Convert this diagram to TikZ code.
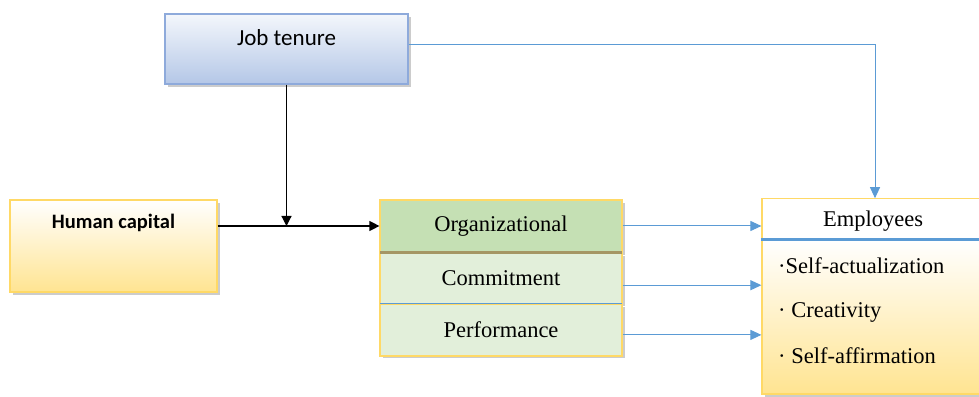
\documentclass[tikz,border=0pt]{standalone}
\usepackage{fontspec}
\setmainfont{Liberation Serif}
\newfontfamily\calibri{Carlito}
\usetikzlibrary{arrows.meta,shadows,positioning}
\definecolor{jtblue}{RGB}{142,170,219}
\definecolor{jtfill}{RGB}{180,199,231}
\definecolor{hcgold}{RGB}{255,217,102}
\definecolor{hcfill}{RGB}{255,228,145}
\definecolor{orggreen}{RGB}{197,224,180}
\definecolor{comgreen}{RGB}{226,239,218}
\definecolor{linkblue}{RGB}{91,155,213}
\definecolor{sepbrown}{RGB}{165,150,100}
\tikzset{
  box/.style={draw, line width=1.2pt, inner sep=0pt,
    drop shadow={shadow xshift=3pt, shadow yshift=-3pt, fill=black!40}},
  goldbox/.style={box, draw=hcgold},
  timesfont/.style={font=\fontsize{22.5}{26}\selectfont},
  blackarrow/.style={-{Triangle[length=10pt,width=10pt]}, line width=1.2pt, black},
  bluearrow/.style={-{Triangle[length=11pt,width=10pt]}, line width=1pt, linkblue}
}
\begin{document}
\begin{tikzpicture}[x=1pt,y=1pt]
  \useasboundingbox (0,0) rectangle (979,396);
  % boxes
  \node[box, draw=jtblue, top color=jtfill!15, bottom color=jtfill,
        minimum width=243pt, minimum height=70pt, text height=16pt, text depth=23pt,
        font=\calibri\fontsize{23}{27}\selectfont] (jt) at (286.5,347) {Job tenure};
  \node[goldbox, top color=white, bottom color=hcfill,
        minimum width=207pt, minimum height=92pt, text height=14pt, text depth=48pt,
        font=\calibri\bfseries\fontsize{20.5}{24}\selectfont] (hc) at (113.5,150) {Human capital};
  \node[goldbox, fill=orggreen, timesfont, minimum width=242pt, minimum height=52pt] (org) at (501,170) {Organizational};
  \node[goldbox, fill=comgreen, timesfont, minimum width=242pt, minimum height=50pt, below=0pt of org] (com) {Commitment};
  \node[goldbox, fill=comgreen, timesfont, minimum width=242pt, minimum height=51pt, below=0pt of com] (perf) {Performance};
  \draw[sepbrown, line width=2.5pt] (org.south west) -- (org.south east);
  \draw[linkblue, line width=0.8pt] (com.south west) -- (com.south east);
  \draw[hcgold, line width=1.2pt] (org.north west) rectangle (perf.south east);
  % employees
  \node[goldbox, top color=white, bottom color=hcfill, minimum width=222pt, minimum height=154pt] (empbody) at (873,79) {};
  \node[draw=hcgold, line width=1.2pt, fill=white, timesfont, inner sep=0pt, text height=16pt, text depth=0pt,
        minimum width=222pt, minimum height=40pt, above=0pt of empbody] (emp) {Employees};
  \draw[linkblue, line width=3pt] (emp.south west) -- (emp.south east);
  \node[timesfont, inner sep=0pt, anchor=base west] (item1) at (778,122) {·Self-actualization};
  \node[timesfont, inner sep=0pt, anchor=base west] (item2) at (778,78) {· Creativity};
  \node[timesfont, inner sep=0pt, anchor=base west] (item3) at (778,33) {· Self-affirmation};
  % connectors
  \draw[blackarrow] (hc.east |- org.west) -- (org.west);
  \draw[blackarrow] (jt.south) -- (jt.south |- org.west);
  \draw[bluearrow] ([yshift=4pt]jt.east) -| ([xshift=2pt]emp.north);
  \draw[bluearrow] (org.east) -- (org.east -| emp.west);
  \draw[bluearrow] ([yshift=-7pt]com.east) -- ([yshift=-7pt]com.east -| emp.west);
  \draw[bluearrow] ([yshift=-5pt]perf.east) -- ([yshift=-5pt]perf.east -| emp.west);
\end{tikzpicture}
\end{document}
